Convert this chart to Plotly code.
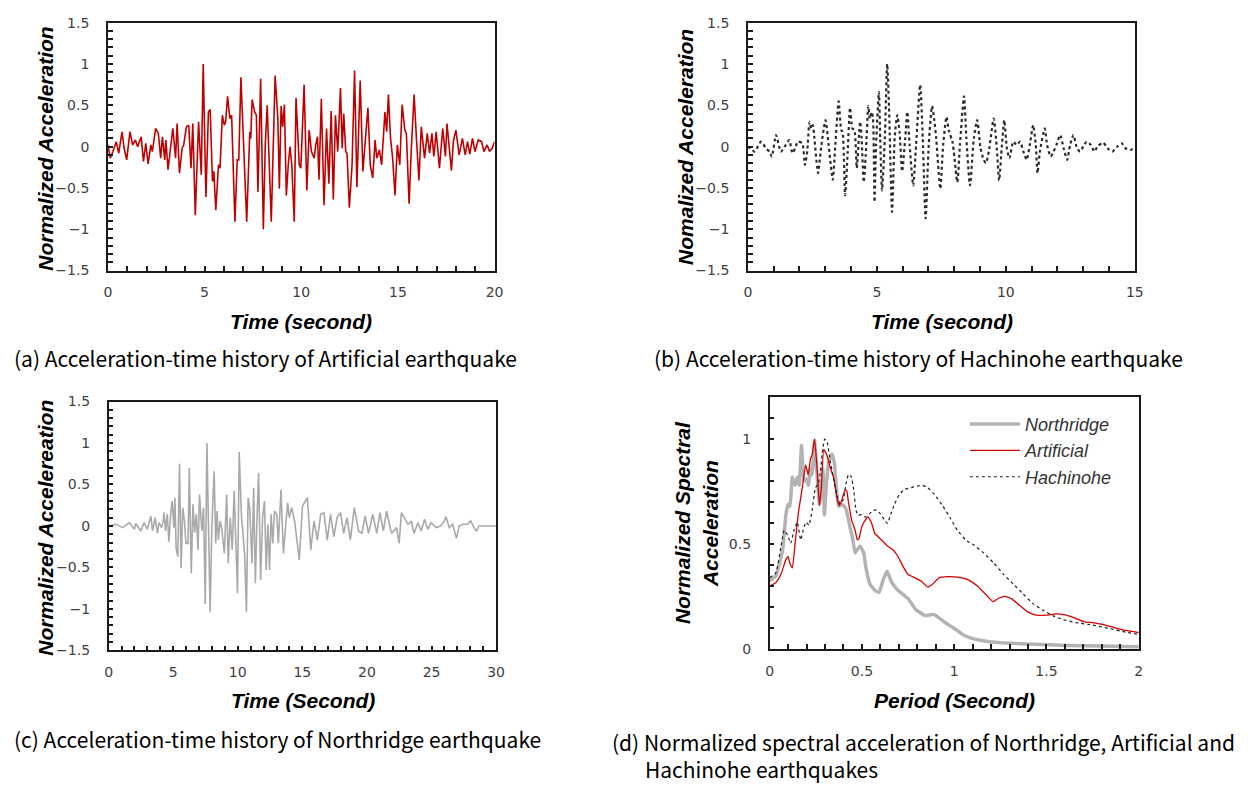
import plotly.graph_objects as go

W, H = 1249, 787

# ---------------- (a) Artificial earthquake ----------------
t_art = [0.00, 0.12, 0.26, 0.43, 0.56, 0.73, 0.84, 0.97, 1.14, 1.28, 1.42, 1.54, 1.72, 1.84, 1.96, 2.08,
         2.22, 2.30, 2.47, 2.61, 2.73, 2.82, 2.94, 3.00, 3.11, 3.24, 3.36, 3.50, 3.58, 3.70, 3.84, 3.92,
         4.06, 4.18, 4.30, 4.39, 4.52, 4.69, 4.83, 4.93, 5.07, 5.20, 5.29, 5.41, 5.48, 5.58, 5.72, 5.80,
         5.92, 6.02, 6.09, 6.19, 6.31, 6.40, 6.57, 6.69, 6.77, 6.88, 7.05, 7.18, 7.34, 7.39, 7.46, 7.59,
         7.68, 7.76, 7.90, 8.04, 8.14, 8.24, 8.45, 8.65, 8.79, 8.87, 8.96, 9.04, 9.13, 9.23, 9.33, 9.42,
         9.51, 9.64, 9.73, 9.90, 9.98, 10.15, 10.29, 10.41, 10.53, 10.67, 10.75, 10.84, 10.92, 11.04,
         11.18, 11.31, 11.43, 11.55, 11.66, 11.77, 11.89, 12.03, 12.12, 12.20, 12.30, 12.37, 12.49, 12.63,
         12.76, 12.88, 13.05, 13.19, 13.31, 13.45, 13.57, 13.70, 13.82, 13.91, 14.04, 14.16, 14.33, 14.42,
         14.51, 14.62, 14.73, 14.85, 14.97, 15.10, 15.22, 15.36, 15.44, 15.58, 15.70, 15.84, 15.96, 16.09,
         16.21, 16.38, 16.52, 16.64, 16.76, 16.86, 16.98, 17.15, 17.32, 17.46, 17.54, 17.66, 17.77, 17.87,
         18.00, 18.17, 18.34, 18.48, 18.60, 18.72, 18.86, 18.99, 19.16, 19.33, 19.45, 19.62, 19.74, 19.88,
         20.00]
a_art = [0.02, -0.14, -0.06, 0.06, -0.08, 0.18, -0.02, -0.16, 0.18, 0.02, 0.08, 0.00, 0.12, -0.18, 0.04, -0.21,
         0.02, -0.06, 0.22, 0.16, -0.14, 0.12, -0.16, 0.08, -0.28, 0.02, 0.22, -0.14, 0.28, -0.32, -0.02, 0.02,
         0.24, 0.26, -0.26, 0.28, -0.83, 0.30, -0.34, 1.00, -0.61, 0.42, 0.45, -0.42, -0.30, -0.77, -0.22, -0.26,
         0.38, 0.26, 0.30, 0.61, 0.34, 0.38, -0.91, -0.16, -0.16, 0.84, -0.22, -0.91, 0.18, 0.10, 0.57, 0.42,
         0.38, -0.55, 0.82, -1.00, 0.02, 0.50, -0.91, 0.86, 0.34, -0.51, 0.49, 0.24, 0.51, -0.59, -0.22, 0.00,
         -0.22, -0.91, 0.59, -0.22, -0.26, 0.75, -0.53, 0.20, -0.06, -0.14, 0.02, 0.12, -0.40, 0.58,
         -0.71, 0.22, -0.45, 0.43, -0.64, 0.38, -0.06, 0.71, -0.02, 0.40, -0.06, -0.08, -0.74, -0.22,
         0.92, -0.49, 0.80, -0.30, 0.06, 0.47, -0.22, -0.38, 0.08, -0.14, -0.04, -0.22, 0.42, 0.18,
         0.63, 0.10, -0.14, -0.59, 0.02, -0.22, 0.51, 0.20, 0.16, -0.69, 0.00, 0.63, 0.10, -0.41,
         0.24, -0.14, 0.16, -0.08, 0.16, -0.12, 0.18, -0.26, 0.22, -0.12, 0.28, -0.06, -0.29, 0.06,
         0.20, -0.10, 0.10, -0.10, 0.06, -0.09, 0.10, -0.06, 0.08, 0.06, -0.06, 0.02, -0.06, -0.02,
         0.06]

# ---------------- (b) Hachinohe earthquake ----------------
t_hac = [0.00, 0.13, 0.26, 0.51, 0.70, 0.83, 0.93, 1.09, 1.28, 1.47, 1.60, 1.73, 1.83, 1.94, 2.11, 2.21,
         2.30, 2.39, 2.46, 2.52, 2.58, 2.72, 2.85, 3.01, 3.13, 3.29, 3.39, 3.52, 3.62, 3.67, 3.77, 3.87,
         3.96, 4.05, 4.13, 4.22, 4.35, 4.41, 4.49, 4.57, 4.67, 4.73, 4.80, 4.85, 4.91, 4.97, 5.08, 5.13,
         5.20, 5.31, 5.40, 5.47, 5.59, 5.69, 5.79, 5.88, 5.98, 6.10, 6.18, 6.27, 6.41, 6.52, 6.68, 6.78,
         6.89, 7.01, 7.14, 7.22, 7.30, 7.46, 7.57, 7.70, 7.80, 7.93, 8.12, 8.22, 8.38, 8.47, 8.61, 8.76,
         8.89, 9.02, 9.14, 9.23, 9.34, 9.53, 9.65, 9.74, 9.85, 9.94, 10.04, 10.14, 10.29, 10.42, 10.55,
         10.68, 10.81, 10.93, 11.06, 11.16, 11.23, 11.32, 11.51, 11.60, 11.74, 11.85, 11.96, 12.11, 12.24,
         12.38, 12.49, 12.62, 12.76, 12.88, 13.00, 13.13, 13.30, 13.43, 13.55, 13.77, 13.94, 14.13, 14.32,
         14.49, 14.64, 14.83, 15.00]
a_hac = [0.00, -0.03, -0.06, 0.06, -0.02, -0.06, -0.12, 0.14, -0.06, 0.02, 0.08, -0.08, -0.02, 0.06, 0.04, -0.22,
         -0.06, 0.30, 0.22, 0.26, 0.10, -0.32, 0.02, 0.32, 0.02, -0.40, 0.02, 0.55, 0.20, 0.18, -0.59, -0.06,
         0.47, 0.22, 0.20, -0.26, 0.30, 0.10, -0.43, -0.10, 0.49, 0.34, 0.42, 0.34, -0.67, 0.02, 0.66, 0.10,
         -0.53, 0.10, 1.00, 0.49, -0.79, 0.10, 0.38, 0.18, -0.30, 0.10, 0.42, 0.02, -0.47, 0.02, 0.75, 0.10,
         -0.87, 0.02, 0.49, 0.34, 0.10, -0.51, 0.02, 0.36, 0.18, 0.06, -0.43, 0.02, 0.61, 0.10, -0.47, 0.10,
         0.32, -0.02, -0.16, -0.20, -0.06, 0.34, -0.02, -0.41, 0.02, 0.32, -0.02, -0.14, 0.06, 0.02, 0.06,
         -0.06, -0.16, 0.02, 0.26, 0.02, -0.32, -0.06, 0.22, 0.02, -0.12, -0.06, 0.02, 0.14, -0.02,
         -0.16, 0.02, 0.14, -0.02, -0.06, 0.00, 0.06, 0.02, -0.06, 0.00, 0.05, -0.02, -0.06, 0.00,
         0.04, -0.02, -0.04, -0.01]

# ---------------- (c) Northridge earthquake ----------------
t_nor = [0.00, 0.58, 1.10, 1.60, 2.00, 2.10, 2.50, 2.75, 3.00, 3.27, 3.40, 3.60, 3.78, 3.90, 4.10, 4.23,
         4.29, 4.41, 4.54, 4.67, 4.80, 4.92, 5.05, 5.13, 5.23, 5.36, 5.49, 5.61, 5.74, 5.87, 5.99, 6.15,
         6.25, 6.40, 6.53, 6.66, 6.79, 6.92, 7.04, 7.22, 7.35, 7.48, 7.61, 7.73, 7.86, 7.99, 8.17, 8.29,
         8.40, 8.50, 8.63, 8.75, 8.96, 9.14, 9.26, 9.42, 9.57, 9.72, 9.90, 9.98, 10.11, 10.18, 10.29, 10.41,
         10.54, 10.67, 10.80, 10.92, 11.10, 11.23, 11.36, 11.49, 11.61, 11.77, 11.92, 12.07, 12.20, 12.33,
         12.46, 12.58, 12.71, 12.84, 13.02, 13.14, 13.35, 13.53, 13.66, 13.86, 13.99, 14.17, 14.40, 14.76,
         15.01, 15.39, 15.65, 15.90, 16.16, 16.42, 16.67, 16.93, 17.18, 17.44, 17.69, 17.95, 18.20, 18.46,
         18.71, 19.02, 19.35, 19.61, 19.86, 20.12, 20.45, 20.76, 21.01, 21.27, 21.52, 21.90, 22.29, 22.49,
         22.67, 22.93, 23.18, 23.44, 23.64, 23.95, 24.20, 24.46, 24.71, 24.97, 25.35, 25.73, 25.99, 26.12,
         26.37, 26.63, 26.93, 27.14, 27.44, 27.78, 28.03, 28.29, 28.47, 28.67, 30.00]
a_nor = [0.00, 0.02, -0.02, 0.04, -0.04, 0.03, -0.06, 0.04, -0.04, 0.12, -0.06, 0.10, -0.09, 0.04, -0.02, 0.06,
         0.16, -0.06, 0.14, -0.19, 0.14, 0.30, -0.02, 0.34, -0.27, -0.37, 0.75, -0.51, 0.22, 0.06, -0.21, -0.21,
         0.70, -0.57, 0.26, -0.08, 0.14, -0.29, 0.38, -0.06, 0.22, -0.94, 1.00, 0.10, -1.04, -0.02, 0.66, -0.21,
         0.18, -0.17, 0.06, -0.02, -0.33, 0.38, -0.45, 0.10, -0.29, 0.42, -0.61, -0.81, 0.89, 0.62, 0.10, -0.09,
         -0.37, -1.04, 0.34, 0.22, -0.45, 0.46, -0.69, 0.10, 0.64, -0.65, 0.10, 0.30, -0.53, 0.02,
         -0.53, 0.14, -0.21, 0.18, 0.14, -0.21, 0.44, -0.33, -0.06, 0.28, 0.10, 0.22, 0.06, -0.41,
         0.24, 0.34, -0.29, 0.06, -0.17, 0.14, 0.16, -0.17, 0.14, -0.13, 0.10, 0.16, -0.09, 0.10,
         -0.17, 0.22, -0.06, -0.09, 0.12, -0.09, 0.14, -0.09, 0.16, -0.06, 0.18, -0.09, -0.02, -0.21,
         0.16, 0.08, 0.02, 0.06, -0.09, 0.04, -0.06, 0.08, -0.04, 0.04, -0.02, 0.00, 0.06, 0.11,
         -0.02, 0.02, -0.15, 0.00, 0.02, 0.02, 0.06, -0.02, -0.06, 0.00, 0.00]

# ---------------- (d) Normalized spectral acceleration ----------------
T_nor = [0.00, 0.034, 0.07, 0.088, 0.10, 0.11, 0.123, 0.138, 0.15, 0.16, 0.173, 0.186, 0.198, 0.21, 0.22,
         0.23, 0.243, 0.257, 0.27, 0.279, 0.288, 0.297, 0.306, 0.32, 0.338, 0.35, 0.36, 0.373, 0.39, 0.41,
         0.42, 0.436, 0.449, 0.463, 0.472, 0.49, 0.51, 0.52, 0.543, 0.57, 0.593, 0.615, 0.636, 0.66, 0.695,
         0.75, 0.79, 0.84, 0.89, 0.945, 1.00, 1.05, 1.106, 1.18, 1.285, 1.43, 1.61, 1.786, 2.00]
S_nor = [0.325, 0.35, 0.47, 0.64, 0.69, 0.68, 0.82, 0.78, 0.82, 0.78, 0.97, 0.80, 0.81, 0.78, 0.86,
         0.83, 0.995, 0.83, 0.69, 0.77, 0.86, 0.64, 0.77, 0.89, 0.93, 0.89, 0.78, 0.68, 0.69, 0.675,
         0.645, 0.58, 0.53, 0.457, 0.47, 0.49, 0.457, 0.395, 0.31, 0.28, 0.27, 0.33, 0.37, 0.32, 0.28,
         0.24, 0.19, 0.16, 0.165, 0.13, 0.098, 0.067, 0.048, 0.036, 0.028, 0.023, 0.017, 0.014, 0.011]

T_art = [0.00, 0.034, 0.061, 0.088, 0.10, 0.109, 0.123, 0.138, 0.155, 0.177, 0.195, 0.209, 0.222, 0.23,
         0.243, 0.257, 0.27, 0.28, 0.293, 0.31, 0.329, 0.347, 0.365, 0.377, 0.39, 0.409, 0.418, 0.427,
         0.445, 0.463, 0.475, 0.484, 0.499, 0.517, 0.534, 0.552, 0.57, 0.588, 0.615, 0.642, 0.668, 0.695,
         0.722, 0.749, 0.785, 0.82, 0.856, 0.883, 0.919, 0.963, 1.017, 1.071, 1.124, 1.169, 1.21, 1.24,
         1.276, 1.312, 1.356, 1.401, 1.446, 1.50, 1.553, 1.607, 1.66, 1.705, 1.75, 1.803, 1.875, 1.946, 2.00]
S_art = [0.30, 0.317, 0.356, 0.426, 0.44, 0.41, 0.387, 0.504, 0.644, 0.77, 0.878, 0.83, 0.91, 0.925,
         1.00, 0.863, 0.683, 0.77, 0.95, 0.925, 0.863, 0.816, 0.722, 0.683, 0.707, 0.76, 0.753, 0.70,
         0.613, 0.566, 0.52, 0.527, 0.582, 0.613, 0.629, 0.60, 0.55, 0.535, 0.512, 0.488, 0.473, 0.441,
         0.395, 0.356, 0.34, 0.325, 0.296, 0.309, 0.34, 0.345, 0.343, 0.332, 0.301, 0.262, 0.226, 0.242,
         0.251, 0.239, 0.207, 0.176, 0.161, 0.161, 0.167, 0.161, 0.145, 0.129, 0.126, 0.117, 0.10, 0.086, 0.078]

T_hac = [0.00, 0.034, 0.061, 0.079, 0.097, 0.114, 0.132, 0.15, 0.168, 0.186, 0.198, 0.213, 0.23, 0.248,
         0.263, 0.275, 0.288, 0.298, 0.311, 0.329, 0.35, 0.368, 0.382, 0.40, 0.413, 0.427, 0.441, 0.454,
         0.468, 0.48, 0.499, 0.517, 0.54, 0.561, 0.579, 0.60, 0.624, 0.638, 0.651, 0.677, 0.704, 0.731,
         0.767, 0.802, 0.829, 0.856, 0.892, 0.937, 0.981, 1.017, 1.062, 1.106, 1.16, 1.214, 1.267, 1.321,
         1.374, 1.428, 1.483, 1.536, 1.59, 1.66, 1.75, 1.84, 1.93, 2.00]
S_hac = [0.34, 0.363, 0.488, 0.566, 0.543, 0.504, 0.566, 0.605, 0.52, 0.582, 0.605, 0.59, 0.66, 0.769,
         0.785, 0.847, 0.956, 1.00, 0.988, 0.894, 0.793, 0.722, 0.691, 0.714, 0.785, 0.832, 0.824, 0.769,
         0.66, 0.637, 0.641, 0.629, 0.644, 0.66, 0.663, 0.644, 0.613, 0.598, 0.629, 0.691, 0.738, 0.761,
         0.769, 0.777, 0.78, 0.769, 0.738, 0.683, 0.621, 0.566, 0.52, 0.496, 0.457, 0.41, 0.356, 0.309,
         0.262, 0.215, 0.184, 0.158, 0.14, 0.126, 0.114, 0.098, 0.08, 0.07]

captions = [
    "(a) Acceleration-time history of Artificial earthquake",
    "(b) Acceleration-time history of Hachinohe earthquake",
    "(c) Acceleration-time history of Northridge earthquake",
    "(d) Normalized spectral acceleration of Northridge, Artificial and<br>"
    + "&nbsp;" * 7 + "Hachinohe earthquakes",
]


def px(x):
    return x / W


def py(y):
    return 1 - y / H


fig = go.Figure()

fig.add_trace(go.Scatter(x=t_art, y=a_art, mode="lines", line=dict(color="#c00000", width=1.6),
                         xaxis="x", yaxis="y", showlegend=False))
fig.add_trace(go.Scatter(x=t_hac, y=a_hac, mode="lines", line=dict(color="#2a2a2a", width=2.2, dash="dot", shape="spline", smoothing=0.6),
                         xaxis="x2", yaxis="y2", showlegend=False))
fig.add_trace(go.Scatter(x=t_nor, y=a_nor, mode="lines", line=dict(color="#a9a9a9", width=1.6),
                         xaxis="x3", yaxis="y3", showlegend=False))
fig.add_trace(go.Scatter(x=T_nor, y=S_nor, mode="lines", name="Northridge",
                         line=dict(color="#b3b3b3", width=3.5, shape="spline", smoothing=0.4),
                         xaxis="x4", yaxis="y4"))
fig.add_trace(go.Scatter(x=T_art, y=S_art, mode="lines", name="Artificial",
                         line=dict(color="#d40000", width=1.3, shape="spline", smoothing=0.4),
                         xaxis="x4", yaxis="y4"))
fig.add_trace(go.Scatter(x=T_hac, y=S_hac, mode="lines", name="Hachinohe",
                         line=dict(color="#222222", width=1.2, dash="dot", shape="spline", smoothing=0.4),
                         xaxis="x4", yaxis="y4"))

tickfont = dict(family="DejaVu Sans", size=14, color="#404040")
linecol = "#1a1a1a"


def xax(dom, rng, dtick, mdtick, anchor):
    return dict(domain=dom, range=rng, dtick=dtick, tick0=0, anchor=anchor, showgrid=False, zeroline=False,
                showline=True, mirror=True, linecolor=linecol, linewidth=1.5,
                ticks="inside", ticklen=5, tickcolor=linecol, tickwidth=1.5, tickfont=tickfont,
                ticklabelstandoff=8,
                minor=dict(dtick=mdtick, tick0=0, ticks="inside", ticklen=5, tickcolor=linecol, tickwidth=1.5))


def yax(dom, rng, dtick, mdtick, anchor):
    return dict(domain=dom, range=rng, dtick=dtick, tick0=0, anchor=anchor, showgrid=False, zeroline=False,
                showline=True, mirror=True, linecolor=linecol, linewidth=1.5,
                ticks="inside", ticklen=5, tickcolor=linecol, tickwidth=1.5, tickfont=tickfont,
                ticklabelstandoff=14,
                minor=dict(dtick=mdtick, tick0=0, ticks="inside", ticklen=5, tickcolor=linecol, tickwidth=1.5))


fig.update_layout(
    width=W, height=H, margin=dict(l=0, r=0, t=0, b=0),
    paper_bgcolor="white", plot_bgcolor="white",
    xaxis=xax([px(105), px(495.7)], [0, 20], 5, 1, "y"),
    yaxis=yax([py(268), py(15)], [-1.5, 1.5], 0.5, 0.1, "x"),
    xaxis2=xax([px(751.7), px(1142.7)], [0, 15], 5, 1, "y2"),
    yaxis2=yax([py(268), py(15)], [-1.5, 1.5], 0.5, 0.1, "x2"),
    xaxis3=xax([px(105.7), px(497.3)], [0, 30], 5, 1, "y3"),
    yaxis3=yax([py(655.7), py(401.7)], [-1.5, 1.5], 0.5, 0.1, "x3"),
    xaxis4=xax([px(773.7), px(1146.7)], [0, 2], 0.5, 0.1, "y4"),
    yaxis4=yax([py(654.3), py(397.3)], [0, 1.2], 0.5, 0.1, "x4"),
    legend=dict(x=px(971), y=py(406), xanchor="left", yanchor="top", bgcolor="rgba(0,0,0,0)",
                font=dict(family="Liberation Sans", size=18, color="#333333", style="italic"),
                tracegroupgap=0, itemwidth=50),
)

tfont = dict(family="Liberation Sans", size=21, color="black", weight="bold", style="italic")
titles = [
    ("Time (second)", 300.5, 320, 0),
    ("Normalized Acceleration", 41, 144, -90),
    ("Time (second)", 948, 320, 0),
    ("Nomalized Acceleration", 688, 142, -90),
    ("Time (Second)", 302, 707, 0),
    ("Normalized Accelereation", 42, 531, -90),
    ("Period (Second)", 961, 707, 0),
    ("Normalized Spectral<br>Acceleration", 700, 525, -90),
]
for txt, x, y, ang in titles:
    fig.add_annotation(text=txt, x=px(x), y=py(y), xref="paper", yref="paper", showarrow=False,
                       xanchor="center", yanchor="middle", textangle=ang, font=tfont)

cfont = dict(family="Noto Sans CJK KR", size=21, color="black")
cap_pos = [(8, 357, "middle"), (655, 357, "middle"), (8, 746, "middle"), (612, 732, "top")]
for txt, (x, y, ya) in zip(captions, cap_pos):
    fig.add_annotation(text=txt, x=px(x), y=py(y), xref="paper", yref="paper", showarrow=False,
                       xanchor="left", yanchor=ya, align="left", font=cfont)

fig.write_html("out.html")
